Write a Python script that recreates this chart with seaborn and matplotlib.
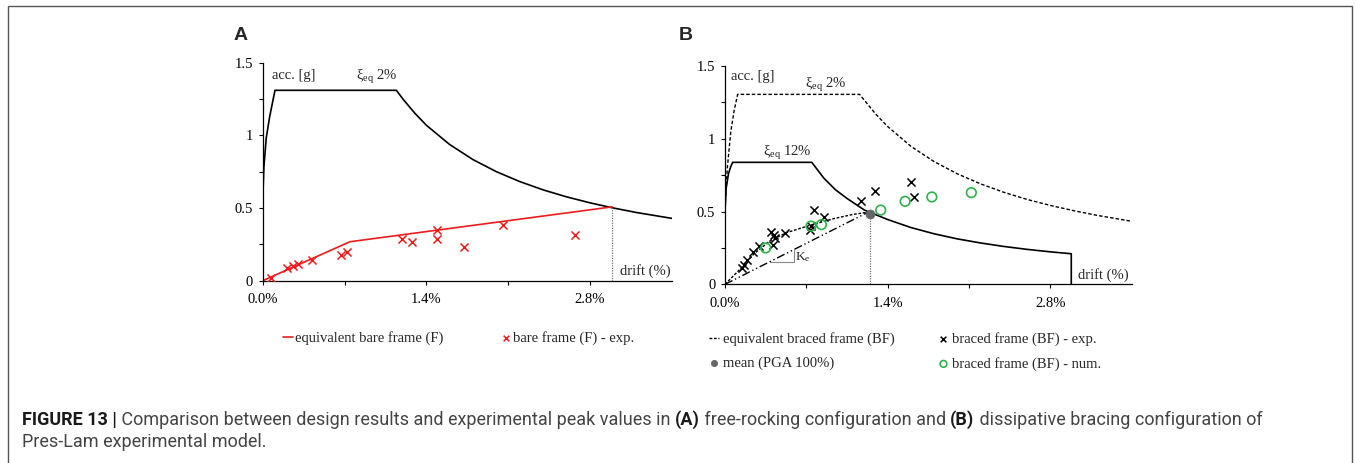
import numpy as np
import pandas as pd
import seaborn as sns
import matplotlib
matplotlib.use("Agg")
import matplotlib.pyplot as plt
from matplotlib.patches import Rectangle

# ---------------- data ----------------
x_ticks = [0.0, 1.4, 2.8]
x_tick_labels = ["0.0%", "1.4%", "2.8%"]
y_ticks = [0.0, 0.5, 1.0, 1.5]
y_tick_labels = ["0", "0.5", "1", "1.5"]

# Panel A : spectrum xi_eq 2 %
a_spec_x = [0.0, 0.01, 0.03, 0.06, 0.09, 0.105, 1.144, 1.2, 1.3, 1.4, 1.6, 1.8, 2.0, 2.2,
            2.4, 2.6, 2.8, 2.99, 3.2, 3.5]
a_spec_y = [0.55, 0.78, 0.98, 1.13, 1.25, 1.31, 1.31, 1.25, 1.154, 1.07, 0.937, 0.833, 0.75,
            0.682, 0.625, 0.577, 0.536, 0.502, 0.469, 0.429]
# Panel A : equivalent bare frame
a_equiv_x = [0.0, 0.746, 2.99]
a_equiv_y = [0.0, 0.268, 0.508]
# Panel A : experimental bare frame
a_exp_x = [0.07, 0.21, 0.26, 0.30, 0.42, 0.67, 0.72, 1.19, 1.28, 1.49, 1.49, 1.72, 2.06, 2.67]
a_exp_y = [0.02, 0.085, 0.10, 0.115, 0.14, 0.18, 0.20, 0.284, 0.268, 0.351, 0.289, 0.229, 0.383, 0.317]
a_perf_x = [2.99, 2.99]
a_perf_y = [0.0, 0.508]

# Panel B : spectra
b_spec2_x = [0.0, 0.02, 0.05, 0.08, 0.109, 1.158, 1.3, 1.4, 1.6, 1.8, 2.0, 2.2, 2.4, 2.6,
             2.8, 3.0, 3.2, 3.5]
b_spec2_y = [0.53, 0.80, 1.05, 1.20, 1.305, 1.305, 1.167, 1.084, 0.948, 0.843, 0.759, 0.69,
             0.632, 0.583, 0.542, 0.506, 0.474, 0.433]
b_spec12_x = [0.0, 0.01, 0.03, 0.05, 0.066, 0.747, 0.85, 0.95, 1.05, 1.2, 1.4, 1.6, 1.8, 2.0,
              2.2, 2.4, 2.6, 2.8, 2.98, 2.98]
b_spec12_y = [0.50, 0.66, 0.76, 0.81, 0.838, 0.838, 0.73, 0.65, 0.59, 0.51, 0.445, 0.39, 0.347,
              0.312, 0.284, 0.26, 0.24, 0.223, 0.21, 0.0]
# Panel B : equivalent braced frame (capacity curve) and secant stiffness
b_equiv_x = [0.0, 0.15, 0.25, 0.39, 0.53, 0.73, 0.93, 1.1, 1.23]
b_equiv_y = [0.0, 0.12, 0.21, 0.30, 0.355, 0.405, 0.45, 0.48, 0.495]
b_secant_x = [0.0, 1.23]
b_secant_y = [0.0, 0.495]
b_ke_x = [0.39, 0.59, 0.59]
b_ke_y = [0.155, 0.155, 0.236]
# Panel B : experimental / numerical
b_exp_x = [0.15, 0.16, 0.19, 0.24, 0.29, 0.40, 0.42, 0.43, 0.41, 0.52, 0.73, 0.74, 0.77, 0.85,
           1.17, 1.29, 1.60, 1.63]
b_exp_y = [0.11, 0.13, 0.17, 0.22, 0.26, 0.36, 0.34, 0.32, 0.27, 0.35, 0.37, 0.40, 0.51, 0.46,
           0.57, 0.64, 0.70, 0.60]
b_num_x = [0.35, 0.74, 0.83, 1.34, 1.55, 1.78, 2.12]
b_num_y = [0.25, 0.40, 0.41, 0.51, 0.57, 0.60, 0.63]
b_mean_x = [1.245]
b_mean_y = [0.48]
b_perf_x = [1.245, 1.245]
b_perf_y = [0.0, 0.48]

# ---------------- style ----------------
sns.set_theme(style="white")
plt.rcParams["font.family"] = ["Liberation Serif", "DejaVu Serif"]
plt.rcParams["mathtext.fontset"] = "custom"
plt.rcParams["mathtext.rm"] = "Liberation Serif"
plt.rcParams["mathtext.it"] = "Liberation Serif"
plt.rcParams["axes.unicode_minus"] = False

W, H = 1357, 463
fig = plt.figure(figsize=(W / 100, H / 100), dpi=100)
fig.patch.set_facecolor("white")

RED = "#ee1c1c"
GREEN = "#2db34a"
FS = 10.5


def px_axes(left, top, right, bottom):
    return fig.add_axes([left / W, 1 - bottom / H, (right - left) / W, (bottom - top) / H])


axA = px_axes(262.7, 62.7, 671.7, 280.7)
axB = px_axes(725.0, 66.0, 1131.7, 284.3)


def style_axis(ax):
    ax.set_xlim(0, 3.5)
    ax.set_ylim(0, 1.5)
    ax.set_xticks(x_ticks)
    ax.set_xticklabels(x_tick_labels)
    ax.set_yticks(y_ticks)
    ax.set_yticklabels(y_tick_labels)
    ax.set_xticks([0.7, 2.1], minor=True)
    ax.set_yticks([0.25, 0.75, 1.25], minor=True)
    ax.tick_params(which="both", direction="out", length=3, width=0.8, colors="black",
                   labelsize=FS, bottom=True, left=True)
    ax.tick_params(axis="x", pad=6)
    ax.tick_params(axis="y", pad=4)
    for s in ["top", "right"]:
        ax.spines[s].set_visible(False)
    for s in ["left", "bottom"]:
        ax.spines[s].set_color("black")
        ax.spines[s].set_linewidth(0.9)
    ax.set_xlabel("")
    ax.set_ylabel("")
    ax.patch.set_alpha(0)


# ---------------- Panel A ----------------
sns.lineplot(x=a_spec_x, y=a_spec_y, ax=axA, sort=False, estimator=None, color="black", lw=1.2)
sns.lineplot(x=a_perf_x, y=a_perf_y, ax=axA, sort=False, estimator=None, color="#777777",
             lw=0.9, linestyle=(0, (1, 1)))
sns.lineplot(x=a_equiv_x, y=a_equiv_y, ax=axA, sort=False, estimator=None, color=RED, lw=1.2,
             label="equivalent bare frame (F)")
sns.scatterplot(x=a_exp_x, y=a_exp_y, ax=axA, marker="x", color=RED, s=34, linewidth=1.1,
                label="bare frame (F) - exp.", zorder=5)
style_axis(axA)
axA.text(0.08, 1.41, "acc. [g]", fontsize=FS, va="center", ha="left")
axA.text(0.8, 1.40, r"$\xi_{\rm eq}$ 2%", fontsize=FS, va="center", ha="left")
axA.text(3.49, 0.02, "drift (%)", fontsize=FS, va="bottom", ha="right")

hA, lA = axA.get_legend_handles_labels()
axA.legend(hA, lA, loc="upper left", bbox_to_anchor=(283 / W, 1 - 331 / H),
           bbox_transform=fig.transFigure, ncol=2, frameon=False, fontsize=FS,
           handlelength=0.7, handletextpad=0.1, columnspacing=4.0, borderpad=0,
           borderaxespad=0, scatterpoints=1, markerscale=0.7)

# ---------------- Panel B ----------------
sns.lineplot(x=b_spec2_x, y=b_spec2_y, ax=axB, sort=False, estimator=None, color="black",
             lw=1.0, linestyle=(0, (2.5, 1.5)))
sns.lineplot(x=b_spec12_x, y=b_spec12_y, ax=axB, sort=False, estimator=None, color="black", lw=1.2)
sns.lineplot(x=b_perf_x, y=b_perf_y, ax=axB, sort=False, estimator=None, color="#777777",
             lw=0.9, linestyle=(0, (1, 1)))
sns.lineplot(x=b_ke_x, y=b_ke_y, ax=axB, sort=False, estimator=None, color="#888888", lw=0.8)
sns.lineplot(x=b_secant_x, y=b_secant_y, ax=axB, sort=False, estimator=None, color="black",
             lw=1.0, linestyle=(0, (6, 2, 1, 2, 1, 2)))
sns.lineplot(x=b_equiv_x, y=b_equiv_y, ax=axB, sort=False, estimator=None, color="black",
             lw=1.0, linestyle=(0, (2, 1.2)), label="equivalent braced frame (BF)")
sns.scatterplot(x=b_exp_x, y=b_exp_y, ax=axB, marker="x", color="black", s=34, linewidth=1.1,
                label="braced frame (BF) - exp.", zorder=5)
sns.scatterplot(x=b_mean_x, y=b_mean_y, ax=axB, marker="o", color="#666666", s=42,
                edgecolor="#666666", label="mean (PGA 100%)", zorder=6)
sns.scatterplot(x=b_num_x, y=b_num_y, ax=axB, marker="o", facecolor="none", edgecolor=GREEN,
                s=48, linewidth=1.2, label="braced frame (BF) - num.", zorder=6)
style_axis(axB)
axB.text(0.05, 1.425, "acc. [g]", fontsize=FS, va="center", ha="left")
axB.text(0.69, 1.37, r"$\xi_{\rm eq}$ 2%", fontsize=FS, va="center", ha="left")
axB.text(0.33, 0.90, r"$\xi_{\rm eq}$ 12%", fontsize=FS, va="center", ha="left")
axB.text(3.47, 0.015, "drift (%)", fontsize=FS, va="bottom", ha="right")
axB.text(0.605, 0.185, r"K$_{\rm e}$", fontsize=FS - 1, va="center", ha="left")

hB, lB = axB.get_legend_handles_labels()
order = ["equivalent braced frame (BF)", "mean (PGA 100%)", "braced frame (BF) - exp.",
         "braced frame (BF) - num."]
hmap = dict(zip(lB, hB))
axB.legend([hmap[k] for k in order], order, loc="upper left",
           bbox_to_anchor=(709 / W, 1 - 332 / H), bbox_transform=fig.transFigure, ncol=2,
           frameon=False, fontsize=FS, handlelength=0.7, handletextpad=0.25,
           columnspacing=3.0, borderpad=0, borderaxespad=0, labelspacing=0.75,
           scatterpoints=1, markerscale=0.7)

# ---------------- panel letters ----------------
fig.text(241 / W, 1 - 35 / H, "A", fontsize=14, fontweight="bold", family="Liberation Sans",
         ha="center", va="center")
fig.text(686 / W, 1 - 36 / H, "B", fontsize=14, fontweight="bold", family="Liberation Sans",
         ha="center", va="center")

# ---------------- border ----------------
fig.patches.append(Rectangle((8 / W, -0.2), (1352 - 8) / W, 1.2 - 6 / H,
                             transform=fig.transFigure, fill=False, edgecolor="#555555",
                             lw=1.0))

# ---------------- caption ----------------
renderer = fig.canvas.get_renderer()
CAP_FAMILY = "Roboto"

line1 = [("FIGURE 13 |", True),
         (" Comparison between design results and experimental peak values in ", False),
         ("(A)", True), (" free-rocking configuration and ", False), ("(B)", True),
         (" dissipative bracing configuration of", False)]
line2 = [("Pres-Lam experimental model.", False)]


def caption_line(segments, x_px, y_px, size):
    x = x_px
    made = []
    for txt, bold in segments:
        t = fig.text(x / W, 1 - y_px / H, txt, fontsize=size, family=CAP_FAMILY,
                     fontweight="bold" if bold else "normal",
                     color="#1a1a1a" if bold else "#444444", ha="left", va="center")
        x += t.get_window_extent(renderer).width
        made.append(t)
    return made, x - x_px


# measure, then rescale so the first line spans about the same width as the reference
probe, wid = caption_line(line1, 22, 419, 12.0)
for t in probe:
    t.remove()
cap_size = 12.0 * 1232.0 / wid
caption_line(line1, 22, 420, cap_size)
caption_line(line2, 22, 442, cap_size)

fig.savefig("out.png", dpi=100)
